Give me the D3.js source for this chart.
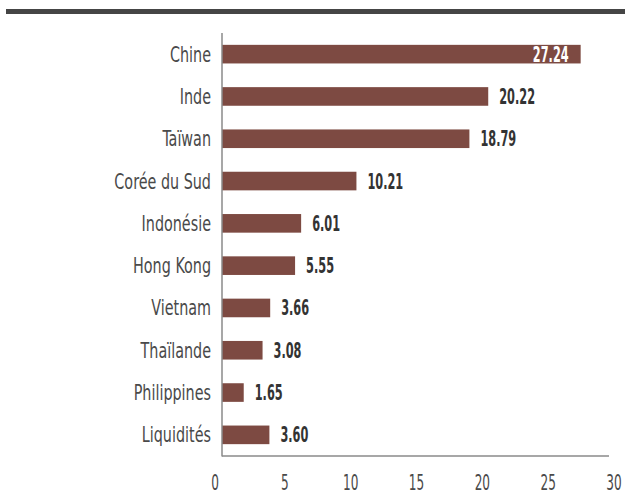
<!DOCTYPE html>
<html>
<head>
<meta charset="utf-8">
<script src="https://cdn.jsdelivr.net/npm/d3@7"></script>
<style>
  body { margin: 0; background: #fff; }
  svg { display: block; }
</style>
</head>
<body>
<div id="chart"></div>
<script>
(function(){

const countries = ["Chine", "Inde", "Taïwan", "Corée du Sud", "Indonésie", "Hong Kong", "Vietnam", "Thaïlande", "Philippines", "Liquidités"];
const weights = [27.24, 20.22, 18.79, 10.21, 6.01, 5.55, 3.66, 3.08, 1.65, 3.60];
const xTicks = [0, 5, 10, 15, 20, 25, 30];

const width = 625;
const height = 494;
const barColor = "#7d4a42";
const fontFam = "'DejaVu Sans Condensed', 'Liberation Sans Narrow', sans-serif";

const data = countries.map((c, i) => ({ country: c, value: weights[i] }));

const svg = d3.select("#chart")
  .append("svg")
  .attr("width", width)
  .attr("height", height);

// dark rule at the top
svg.append("rect")
  .attr("x", 6).attr("y", 9)
  .attr("width", width - 6).attr("height", 5)
  .attr("fill", "#454545");

const x = d3.scaleLinear()
  .domain([0, 30])
  .range([222, 617]);

const y = d3.scaleBand()
  .domain(countries)
  .range([33, 456])
  .paddingInner(0.56)
  .paddingOuter(0.28);

// bars
svg.append("g")
  .selectAll("rect")
  .data(data)
  .enter()
  .append("rect")
  .attr("x", x(0))
  .attr("y", d => y(d.country))
  .attr("width", d => x(d.value) - x(0))
  .attr("height", y.bandwidth())
  .attr("fill", barColor);

// axes lines
svg.append("line")
  .attr("x1", x(0)).attr("x2", x(0))
  .attr("y1", 33).attr("y2", 456.5)
  .attr("stroke", "#8a8a8a").attr("stroke-width", 1.5);

svg.append("line")
  .attr("x1", x(0)).attr("x2", 609)
  .attr("y1", 456).attr("y2", 456)
  .attr("stroke", "#8a8a8a").attr("stroke-width", 1.5);

// category labels
svg.append("g")
  .selectAll("text")
  .data(data)
  .enter()
  .append("text")
  .attr("transform", d => `translate(211,${y(d.country) + y.bandwidth() / 2 + 7.5}) scale(0.76,1)`)
  .attr("text-anchor", "end")
  .attr("font-family", fontFam)
  .attr("font-size", 21)
  .attr("fill", "#4a4a4a")
  .text(d => d.country);

// value labels
svg.append("g")
  .selectAll("text")
  .data(data)
  .enter()
  .append("text")
  .attr("transform", d => {
    const inside = d.value > 25;
    const tx = inside ? x(d.value) - 12 : x(d.value) + 11;
    return `translate(${tx},${y(d.country) + y.bandwidth() / 2 + 7.5}) scale(0.6,1)`;
  })
  .attr("text-anchor", d => d.value > 25 ? "end" : "start")
  .attr("font-family", fontFam)
  .attr("font-weight", "bold")
  .attr("font-size", 21)
  .attr("fill", d => d.value > 25 ? "#fff" : "#333")
  .text(d => d.value.toFixed(2));

// x tick labels
svg.append("g")
  .selectAll("text")
  .data(xTicks)
  .enter()
  .append("text")
  .attr("transform", d => `translate(${x(d) - (d === 0 ? 7 : 3)},490) scale(0.64,1)`)
  .attr("text-anchor", "middle")
  .attr("font-family", fontFam)
  .attr("font-size", 21)
  .attr("fill", "#4a4a4a")
  .text(d => d);

})();
</script>
</body>
</html>
